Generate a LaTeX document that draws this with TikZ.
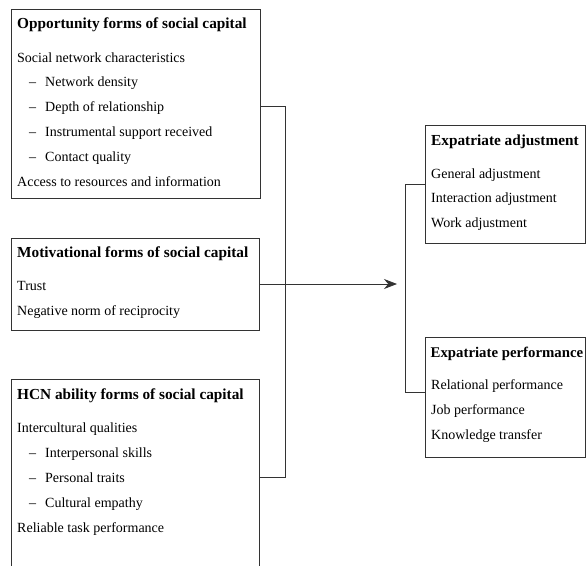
\documentclass[tikz,border=0pt]{standalone}
\usepackage{fontspec}
\setmainfont{Liberation Serif}
\usetikzlibrary{arrows.meta}
\tikzset{
  box/.style={draw=black!80, line width=0.8pt, inner sep=0pt, fill=none},
  ttl/.style={anchor=base west, inner sep=0pt, font=\fontsize{15.3}{18}\selectfont\bfseries},
  txt/.style={anchor=base west, inner sep=0pt, font=\fontsize{14}{17}\selectfont},
  link/.style={draw=black!80, line width=0.8pt},
  arr/.style={link, -{Stealth[length=13pt,width=10pt]}}
}
\begin{document}
\begin{tikzpicture}[x=1pt,y=-1pt]
\useasboundingbox (0,0) rectangle (586,565);
% boxes
\node[box, minimum width=249pt, minimum height=189pt] (b1) at (135.5,103.5) {};
\node[box, minimum width=248pt, minimum height=92pt] (b2) at (135,284) {};
\node[box, minimum width=248pt, minimum height=196pt] (b3) at (135,477) {};
\node[box, minimum width=160pt, minimum height=117.5pt] (b4) at (505.5,184.25) {};
\node[box, minimum width=160pt, minimum height=120pt] (b5) at (505.5,397) {};
% box 1 text
\node[ttl] (t1) at (17,28) {Opportunity forms of social capital};
\node[txt] (t1a) at (17,62) {Social network characteristics};
\node[txt] (d1b) at (29,86.8) {–};
\node[txt] (t1b) at (45,86.8) {Network density};
\node[txt] (d1c) at (29,111.6) {–};
\node[txt] (t1c) at (45,111.6) {Depth of relationship};
\node[txt] (d1d) at (29,136.4) {–};
\node[txt] (t1d) at (45,136.4) {Instrumental support received};
\node[txt] (d1e) at (29,161.2) {–};
\node[txt] (t1e) at (45,161.2) {Contact quality};
\node[txt] (t1f) at (17,186) {Access to resources and information};
% box 2 text
\node[ttl] (t2) at (17,257) {Motivational forms of social capital};
\node[txt] (t2a) at (17,290) {Trust};
\node[txt] (t2b) at (17,315) {Negative norm of reciprocity};
% box 3 text
\node[ttl] (t3) at (17,399) {HCN ability forms of social capital};
\node[txt] (t3a) at (17,432) {Intercultural qualities};
\node[txt] (d3b) at (29,457) {–};
\node[txt] (t3b) at (45,457) {Interpersonal skills};
\node[txt] (d3c) at (29,482) {–};
\node[txt] (t3c) at (45,482) {Personal traits};
\node[txt] (d3d) at (29,507) {–};
\node[txt] (t3d) at (45,507) {Cultural empathy};
\node[txt] (t3e) at (17,532) {Reliable task performance};
% box 4 text
\node[ttl] (t4) at (431,145) {Expatriate adjustment};
\node[txt] (t4a) at (431,178) {General adjustment};
\node[txt] (t4b) at (431,202) {Interaction adjustment};
\node[txt] (t4c) at (431,227) {Work adjustment};
% box 5 text
\node[ttl, font=\fontsize{14.8}{18}\selectfont\bfseries] (t5) at (430.5,357) {Expatriate performance};
\node[txt] (t5a) at (431,389) {Relational performance};
\node[txt] (t5b) at (431,414) {Job performance};
\node[txt] (t5c) at (431,439) {Knowledge transfer};
% connectors
\coordinate (lj) at (285.5,284);
\coordinate (tip) at (397,284);
\coordinate (rj) at (405.7,290);
\draw[link] ([yshift=-2.5pt]b1.east) -| (lj) |- (b3.east);
\draw[arr] (b2.east) -- (tip);
\draw[link] (b4.west) -| (rj) |- ([yshift=5pt]b5.west);
\end{tikzpicture}
\end{document}
